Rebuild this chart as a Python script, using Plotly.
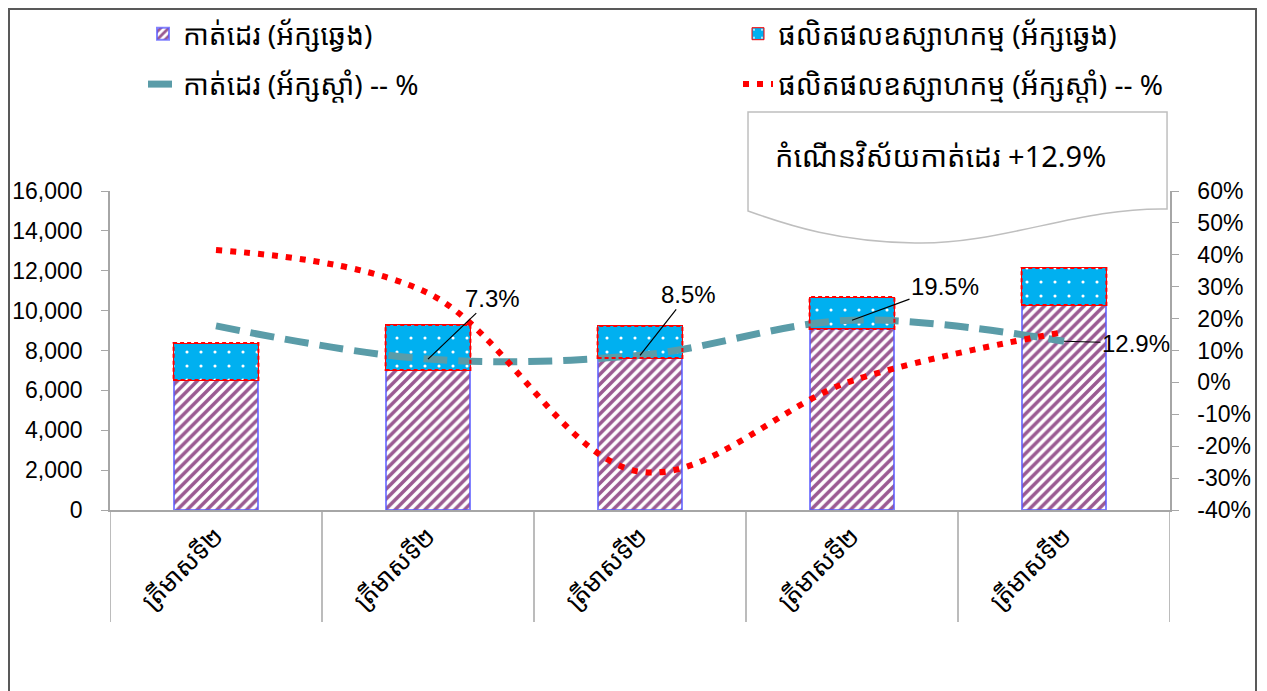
import plotly.graph_objects as go

# quarter labels (all "Q2" of successive years)
categories = ["ត្រីមាសទី២", "ត្រីមាសទី២", "ត្រីមាសទី២", "ត្រីមាសទី២", "ត្រីមាសទី២"]

# left axis: values (stacked bars)
cut_sew = [6520, 7020, 7620, 9080, 10280]
manufacturing = [1850, 2260, 1610, 1600, 1860]

# right axis: year-on-year growth
cut_sew_yoy = [0.177, 0.073, 0.085, 0.195, 0.129]
manuf_yoy = [0.415, 0.28, -0.28, 0.005, 0.158]

right_ticks = [-0.4, -0.3, -0.2, -0.1, 0.0, 0.1, 0.2, 0.3, 0.4, 0.5, 0.6]
right_labels = ["-40%", "-30%", "-20%", "-10%", "0%", "10%", "20%", "30%", "40%", "50%", "60%"]

names = [
    "កាត់ដេរ (អ័ក្សឆ្វេង)",
    "ផលិតផលឧស្សាហកម្ម (អ័ក្សឆ្វេង)",
    "កាត់ដេរ (អ័ក្សស្តាំ) -- %",
    "ផលិតផលឧស្សាហកម្ម (អ័ក្សស្តាំ) -- %",
]
callout_text = "កំណើនវិស័យកាត់ដេរ +12.9%"

W, H = 1267, 691
OFF = 8  # page body margin
L, R, T, B = 110, 1170, 191, 510  # plot area in page pixels
KH = "Noto Sans Khmer, Khmer OS, Noto Sans, DejaVu Sans, sans-serif"
NUM = "Liberation Sans, Arial, sans-serif"
BAR_W = 0.4


def paper(px, py):
    return (px - L) / (R - L), (B - py) / (B - T)


def container(px, py):
    return (px - OFF) / W, 1 - (py - OFF) / H


xs = list(range(len(categories)))

fig = go.Figure()

fig.add_trace(go.Bar(
    x=xs, y=cut_sew, name=names[0], width=BAR_W, legend="legend", legendgroup="a",
    marker=dict(
        color="white",
        line=dict(color="rgba(90,90,255,0.75)", width=2),
        pattern=dict(shape="/", fgcolor="#9A5A92", bgcolor="white", fgopacity=1,
                     size=7, solidity=0.5),
    ),
))
fig.add_trace(go.Bar(
    x=xs, y=manufacturing, name=names[1], width=BAR_W, legend="legend2", legendgroup="b",
    marker=dict(
        color="#00B0F0",
        line=dict(color="#FF0000", width=1),
        pattern=dict(shape=".", fgcolor="white", bgcolor="#00B0F0", fgopacity=1,
                     size=14, solidity=0.04),
    ),
))
fig.add_trace(go.Scatter(
    x=xs, y=cut_sew_yoy, name=names[2], yaxis="y2", mode="lines",
    legend="legend", legendgroup="c",
    line=dict(color="#5A9CA8", width=7, dash="24px,11px", shape="spline", smoothing=1.0),
))
fig.add_trace(go.Scatter(
    x=xs, y=manuf_yoy, name=names[3], yaxis="y2", mode="lines",
    legend="legend2", legendgroup="d",
    line=dict(color="#FF0000", width=6, dash="6px,8px", shape="spline", smoothing=1.0),
))

shapes = []
# dashed red outline of the upper bar segment
for i in xs:
    shapes.append(dict(
        type="rect", xref="x", yref="y",
        x0=i - BAR_W / 2, x1=i + BAR_W / 2,
        y0=cut_sew[i], y1=cut_sew[i] + manufacturing[i],
        line=dict(color="#FF0000", width=2, dash="4px,3px"),
    ))
# category separators below the axis
for i in range(len(categories) + 1):
    shapes.append(dict(
        type="line", xref="x", yref="paper",
        x0=i - 0.5, x1=i - 0.5, y0=0, y1=paper(0, 622)[1],
        line=dict(color="#A6A6A6", width=1.5),
    ))

# wavy "document" callout box
pts = [paper(748, 112), paper(1167, 112), paper(1167, 209),
       paper(1080, 207), paper(1000, 245), paper(915, 243),
       paper(840, 242), paper(790, 226), paper(748, 211)]
p = ["%.4f,%.4f" % q for q in pts]
path = f"M {p[0]} L {p[1]} L {p[2]} C {p[3]} {p[4]} {p[5]} C {p[6]} {p[7]} {p[8]} Z"
shapes.append(dict(type="path", xref="paper", yref="paper", path=path,
                   fillcolor="white", line=dict(color="#BFBFBF", width=1.5), layer="above"))

# outer chart border (left/top edges kept inside the visible page)
bx0, by0 = paper(9, 697)
bx1, by1 = paper(1256, 9)
shapes.append(dict(type="rect", xref="paper", yref="paper", x0=bx0, x1=bx1, y0=by0, y1=by1,
                   line=dict(color="#595959", width=2)))

annotations = []
offsets = [None, (64, -61), (48, -61), (93, -34), (72, 2)]
for i, v in enumerate(cut_sew_yoy):
    if offsets[i] is None:
        continue
    ax, ay = offsets[i]
    annotations.append(dict(
        x=i, y=v, xref="x", yref="y2", text=f"{v * 100:.1f}%",
        showarrow=True, arrowhead=0, arrowwidth=1.2, arrowcolor="black",
        ax=ax, ay=ay, font=dict(family=NUM, size=24, color="black"),
    ))

tx, ty = paper(773, 155)
annotations.append(dict(x=tx, y=ty, xref="paper", yref="paper", xanchor="left", yanchor="middle",
                        text=callout_text, showarrow=False,
                        font=dict(family=KH, size=29, color="black")))

leg_common = dict(
    orientation="v", xanchor="left", yanchor="top", tracegroupgap=11,
    xref="container", yref="container",
    font=dict(family=KH, size=28, color="black"), bgcolor="rgba(0,0,0,0)",
)
l1x, l1y = container(143, 9)
l2x, l2y = container(738, 9)

fig.update_layout(
    width=W, height=H,
    margin=dict(l=L - OFF, r=W + OFF - R, t=T - OFF, b=H + OFF - B, autoexpand=False),
    barmode="stack",
    plot_bgcolor="white", paper_bgcolor="white",
    showlegend=True,
    legend=dict(x=l1x, y=l1y, **leg_common),
    legend2=dict(x=l2x, y=l2y, **leg_common),
    xaxis=dict(
        range=[-0.5, len(categories) - 0.5], tickvals=xs, ticktext=categories,
        tickangle=-45, showline=True, linecolor="#A6A6A6", linewidth=1.5,
        ticks="", showgrid=False, zeroline=False, automargin=False,
        tickfont=dict(family=KH, size=25, color="black"),
    ),
    yaxis=dict(
        range=[0, 16000], dtick=2000, tickformat=",", showline=True,
        linecolor="#A6A6A6", linewidth=1.5, ticks="outside", ticklen=7, tickcolor="#A6A6A6",
        showgrid=False, zeroline=False, ticklabelstandoff=14, automargin=False,
        tickfont=dict(family=NUM, size=23, color="black"),
    ),
    yaxis2=dict(
        range=[-0.4, 0.6], tickvals=right_ticks, ticktext=right_labels,
        overlaying="y", side="right", automargin=False,
        showline=True, linecolor="#A6A6A6", linewidth=1.5, ticks="outside", ticklen=7,
        tickcolor="#A6A6A6", showgrid=False, zeroline=False, ticklabelstandoff=14,
        tickfont=dict(family=NUM, size=23, color="black"),
    ),
    shapes=shapes,
    annotations=annotations,
)

fig.write_html("out.html")
